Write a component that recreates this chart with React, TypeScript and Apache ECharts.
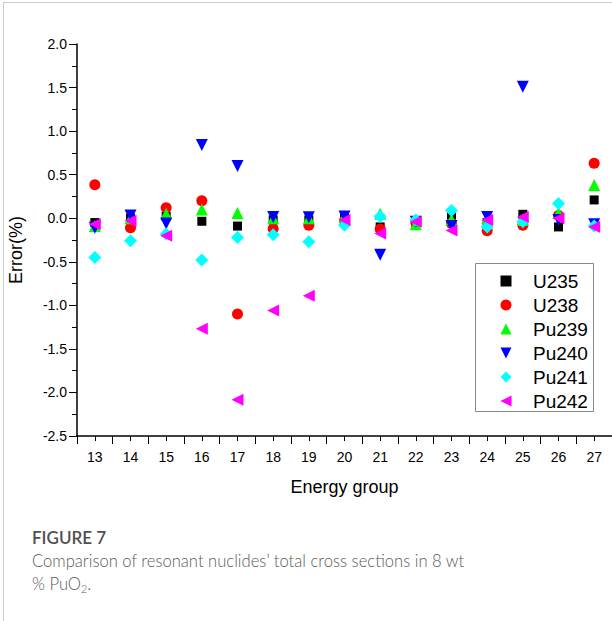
import React, { useEffect, useRef } from "react";
import * as echarts from "echarts";

const groups = [13, 14, 15, 16, 17, 18, 19, 20, 21, 22, 23, 24, 25, 26, 27];

const u235 = [-0.05, 0.0, 0.02, -0.035, -0.09, -0.02, -0.02, 0.0, -0.1, -0.05, 0.035, -0.05, 0.045, -0.1, 0.21];
const u238 = [0.385, -0.11, 0.12, 0.2, -1.1, -0.12, -0.08, -0.03, -0.125, -0.05, -0.06, -0.145, -0.08, 0.03, 0.63];
const pu239 = [-0.09, 0.0, 0.05, 0.1, 0.06, 0.0, 0.0, 0.02, 0.05, -0.07, -0.015, 0.0, -0.02, 0.06, 0.38];
const pu240 = [-0.11, 0.03, -0.06, 0.84, 0.6, 0.015, 0.01, 0.02, -0.42, -0.04, -0.09, 0.015, 1.51, -0.02, -0.07];
const pu241 = [-0.45, -0.26, -0.18, -0.48, -0.22, -0.19, -0.27, -0.08, 0.02, -0.02, 0.09, -0.1, -0.04, 0.17, -0.09];
const pu242 = [-0.07, -0.03, -0.2, -1.27, -2.085, -1.06, -0.89, -0.02, -0.175, -0.04, -0.14, -0.02, 0.015, 0.0, -0.1];

const seriesDefs = [
  { name: "U235", values: u235, symbol: "rect", size: 9, rotate: 0, color: "#000000", icon: "rect" },
  { name: "U238", values: u238, symbol: "circle", size: 11, rotate: 0, color: "#ff0000", icon: "circle" },
  { name: "Pu239", values: pu239, symbol: "triangle", size: 12, rotate: 0, color: "#00ff00", icon: "triangle" },
  { name: "Pu240", values: pu240, symbol: "triangle", size: 12, rotate: 180, color: "#0000ff", icon: "path://M0,0L10,0L5,10Z" },
  { name: "Pu241", values: pu241, symbol: "diamond", size: 13, rotate: 0, color: "#00ffff", icon: "diamond" },
  { name: "Pu242", values: pu242, symbol: "triangle", size: 12, rotate: 90, color: "#ff00ff", icon: "path://M10,0L10,10L0,5Z" },
];

const FONT = "Liberation Sans, Arial, sans-serif";
const CAPTION_FONT = "Lato, 'Open Sans', sans-serif";

export default function App() {
  const ref = useRef<HTMLDivElement>(null);

  useEffect(() => {
    document.body.style.margin = "0";
    if (!ref.current) return;
    const chart = echarts.init(ref.current, null, { renderer: "svg" });

    const series: any[] = seriesDefs.map((d) => ({
      name: d.name,
      type: "scatter",
      symbol: d.symbol,
      symbolSize: d.size,
      symbolRotate: d.rotate,
      itemStyle: { color: d.color, opacity: 1 },
      data: groups.map((g, i) => [g, d.values[i]]),
      z: 3,
    }));

    chart.setOption({
      animation: false,
      backgroundColor: "#ffffff",
      grid: { left: 77, right: 0, top: 44, bottom: 185, containLabel: false },
      xAxis: {
        type: "value",
        position: "bottom",
        min: 12.5,
        max: 27.5,
        interval: 1,
        name: "Energy group",
        nameLocation: "middle",
        nameGap: 42,
        nameTextStyle: { fontFamily: FONT, fontSize: 18, color: "#000" },
        axisLine: { show: true, onZero: false, lineStyle: { color: "#000", width: 1.5 } },
        axisTick: { show: true, inside: false, length: 8, lineStyle: { color: "#000", width: 1 } },
        minorTick: { show: true, splitNumber: 2, length: 5, lineStyle: { color: "#000", width: 1 } },
        axisLabel: { show: true, margin: 14, customValues: groups, fontFamily: FONT, fontSize: 14, color: "#000" },
        splitLine: { show: false },
      },
      yAxis: {
        type: "value",
        min: -2.5,
        max: 2.0,
        interval: 0.5,
        axisLine: { show: true, onZero: false, lineStyle: { color: "#000", width: 1.5 } },
        axisTick: { show: true, inside: false, length: 8, lineStyle: { color: "#000", width: 1 } },
        minorTick: { show: true, splitNumber: 2, length: 5, lineStyle: { color: "#000", width: 1 } },
        axisLabel: {
          margin: 10,
          fontFamily: FONT,
          fontSize: 14,
          color: "#000",
          formatter: (v: number) => v.toFixed(1),
        },
        splitLine: { show: false },
      },
      legend: {
        orient: "vertical",
        left: 500.5,
        top: 269,
        padding: 0,
        itemGap: 0,
        itemWidth: 11,
        itemHeight: 11,
        selectedMode: false,
        data: seriesDefs.map((d) => ({ name: d.name, icon: d.icon })),
        textStyle: { fontFamily: FONT, fontSize: 19, color: "#000", lineHeight: 24, padding: [0, 0, 0, 16.5] },
      },
      graphic: [
        { type: "line", shape: { x1: 3, y1: 2.5, x2: 612, y2: 2.5 }, style: { stroke: "#cccccc", lineWidth: 1 }, silent: true },
        { type: "line", shape: { x1: 3.5, y1: 2, x2: 3.5, y2: 621 }, style: { stroke: "#cccccc", lineWidth: 1 }, silent: true },
        {
          type: "rect",
          shape: { x: 475.5, y: 263.5, width: 118, height: 148 },
          style: { fill: "rgba(255,255,255,0)", stroke: "#888888", lineWidth: 1 },
          silent: true,
          z: 1,
        },
        {
          type: "text",
          x: 16,
          y: 250,
          rotation: Math.PI / 2,
          style: { text: "Error(%)", fontFamily: FONT, fontSize: 18, fill: "#000", align: "center", verticalAlign: "middle" },
          silent: true,
        },
        {
          type: "text",
          x: 32,
          y: 537,
          style: { text: "FIGURE 7", fontFamily: CAPTION_FONT, fontSize: 17, fontWeight: 600, fill: "#505050", align: "left", verticalAlign: "middle" },
          silent: true,
        },
        {
          type: "text",
          x: 32,
          y: 561,
          style: {
            text: "Comparison of resonant nuclides’ total cross sections in 8 wt",
            fontFamily: CAPTION_FONT,
            fontSize: 16.6,
            fontWeight: 300,
            fill: "#5a5a5a",
            align: "left",
            verticalAlign: "middle",
          },
          silent: true,
        },
        {
          type: "text",
          x: 32,
          y: 584,
          style: {
            text: "% PuO{sub|2}.",
            fontFamily: CAPTION_FONT,
            fontSize: 16.6,
            fontWeight: 300,
            fill: "#5a5a5a",
            align: "left",
            verticalAlign: "middle",
            rich: {
              sub: { fontFamily: CAPTION_FONT, fontSize: 11, fontWeight: 300, fill: "#5a5a5a", padding: [8, 0, 0, 0] },
            },
          },
          silent: true,
        },
      ],
      series,
    });

    return () => chart.dispose();
  }, []);

  return <div ref={ref} style={{ width: 612, height: 621 }} />;
}
